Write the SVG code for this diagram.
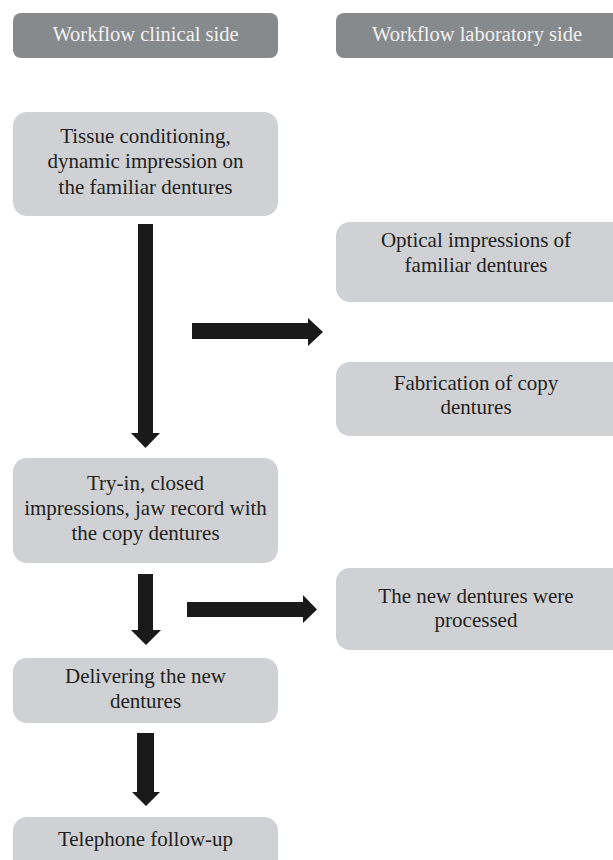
<svg xmlns="http://www.w3.org/2000/svg" width="613" height="860" viewBox="0 0 613 860">
<style>
.hdr{fill:#878a8d}
.box{fill:#d0d1d4}
.ht{font-family:"Liberation Serif",serif;font-size:20.5px;fill:#f2f2f2;text-anchor:middle}
.t{font-family:"Liberation Serif",serif;font-size:21px;fill:#231f20;text-anchor:middle}
.arr{fill:#1a1a1a}
</style>
<rect width="613" height="860" fill="#ffffff"/>
<g id="hdr-clinical"><rect class="hdr" x="13" y="13" width="265" height="45" rx="8"/><text class="ht" x="145.5" y="41">Workflow clinical side</text></g>
<g id="hdr-lab"><rect class="hdr" x="336" y="13" width="290" height="45" rx="8"/><text class="ht" x="477" y="41">Workflow laboratory side</text></g>
<g id="n-tissue"><rect class="box" x="13" y="112" width="265" height="104" rx="14"/><text class="t" x="145.5" y="143">Tissue conditioning,</text><text class="t" x="145.5" y="168">dynamic impression on</text><text class="t" x="145.5" y="194">the familiar dentures</text></g>
<g id="n-optical"><rect class="box" x="336" y="222" width="290" height="80" rx="14"/><text class="t" x="476" y="247">Optical impressions of</text><text class="t" x="476" y="272">familiar dentures</text></g>
<g id="n-fab"><rect class="box" x="336" y="362" width="290" height="74" rx="14"/><text class="t" x="476" y="390">Fabrication of copy</text><text class="t" x="476" y="414">dentures</text></g>
<g id="n-tryin"><rect class="box" x="13" y="458" width="265" height="105" rx="14"/><text class="t" x="145.5" y="490">Try-in, closed</text><text class="t" x="145.5" y="515">impressions, jaw record with</text><text class="t" x="145.5" y="540">the copy dentures</text></g>
<g id="n-new"><rect class="box" x="336" y="568" width="290" height="82" rx="14"/><text class="t" x="476" y="603">The new dentures were</text><text class="t" x="476" y="627">processed</text></g>
<g id="n-deliver"><rect class="box" x="13" y="658" width="265" height="65" rx="14"/><text class="t" x="145.5" y="683">Delivering the new</text><text class="t" x="145.5" y="708">dentures</text></g>
<g id="n-phone"><rect class="box" x="13" y="817" width="265" height="60" rx="14"/><text class="t" x="145.5" y="846">Telephone follow-up</text></g>
<g id="connectors">
<polygon class="arr" points="138,224 153,224 153,433 160,433 145.5,448 131,433 138,433"/>
<polygon class="arr" points="192,323 308,323 308,318 323,332 308,346 308,339 192,339"/>
<polygon class="arr" points="138,574 153,574 153,630 161,630 146,645 131,630 138,630"/>
<polygon class="arr" points="187,602 303,602 303,595 317,609.5 303,623 303,617 187,617"/>
<polygon class="arr" points="137,733 154,733 154,792 160,792 146,806 132,792 137,792"/>
</g>
</svg>
